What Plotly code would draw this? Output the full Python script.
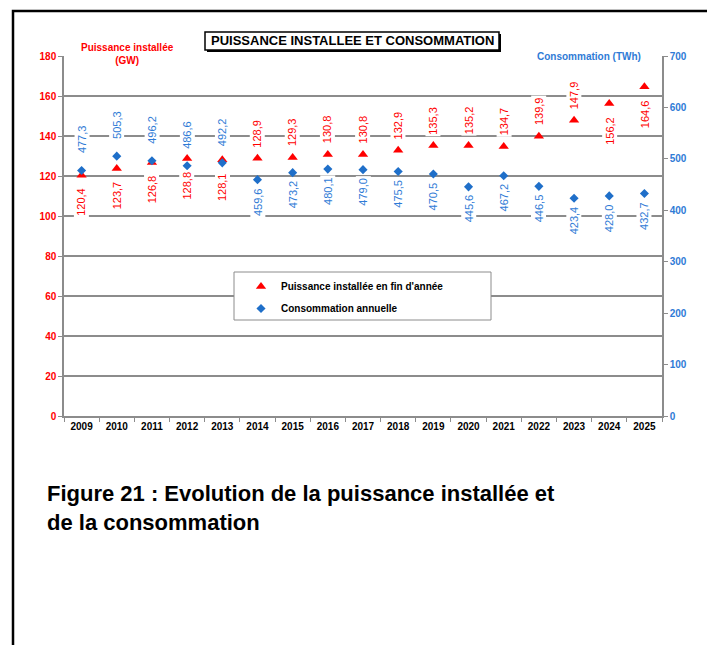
import plotly.graph_objects as go

# Données
annees = [str(a) for a in range(2009, 2026)]
puissance = [120.4, 123.7, 126.8, 128.8, 128.1, 128.9, 129.3, 130.8, 130.8,
             132.9, 135.3, 135.2, 134.7, 139.9, 147.9, 156.2, 164.6]
consommation = [477.3, 505.3, 496.2, 486.6, 492.2, 459.6, 473.2, 480.1, 479.0,
                475.5, 470.5, 445.6, 467.2, 446.5, 423.4, 428.0, 432.7]
# côté de l'étiquette : "h" au-dessus, "b" en dessous
cote_puissance = ["b"] * 5 + ["h"] * 10 + ["b"] * 2
cote_consommation = ["h"] * 5 + ["b"] * 12

ROUGE = "#FF0000"
BLEU = "#1F6FC9"
BLEU_TXT = "#2F7BD6"
GRIS = "#8C8C8C"
POLICE = "Arial, Liberation Sans, sans-serif"

# zone de tracé (pixels de la fenêtre) ; la page ajoute une marge de 8 px
OFF = 8
L, R, T, B = 64, 662, 56, 416
W, H = 706, 637


def px(x):
    return (x - L) / (R - L)


def py(y):
    return (B - y) / (B - T)


fig = go.Figure()

fig.add_trace(go.Scatter(
    x=annees, y=puissance, mode="markers", name="Puissance installée en fin d'année",
    marker=dict(symbol="triangle-up", size=9, color=ROUGE),
    legendgroup="p",
))
fig.add_trace(go.Scatter(
    x=annees, y=consommation, mode="markers", name="Consommation annuelle",
    marker=dict(symbol="diamond", size=7, color=BLEU),
    yaxis="y2", legendgroup="c",
))

annotations = []


def fmt(v):
    return f"{v:.1f}".replace(".", ",")


# étiquettes de données verticales (x = rang de la catégorie)
for i, (v, c) in enumerate(zip(puissance, cote_puissance)):
    annotations.append(dict(
        x=i, y=v, xref="x", yref="y", text=fmt(v), showarrow=False,
        textangle=-90, font=dict(family=POLICE, size=11, color=ROUGE),
        bgcolor="white", borderpad=1, yshift=25 if c == "h" else -27,
    ))
for i, (v, c) in enumerate(zip(consommation, cote_consommation)):
    annotations.append(dict(
        x=i, y=v, xref="x", yref="y2", text=fmt(v), showarrow=False,
        textangle=-90, font=dict(family=POLICE, size=11, color=BLEU_TXT),
        bgcolor="white", borderpad=1, yshift=31 if c == "h" else -22,
    ))

# titres
annotations += [
    dict(x=px(352), y=py(41), xref="paper", yref="paper", showarrow=False,
         xanchor="center", yanchor="middle",
         text="PUISSANCE INSTALLEE ET CONSOMMATION",
         font=dict(family=POLICE, size=13, color="black", weight="bold")),
    dict(x=px(127), y=py(54), xref="paper", yref="paper", showarrow=False,
         xanchor="center", yanchor="middle",
         text="Puissance installée<br>(GW)", bgcolor="white", borderpad=3,
         font=dict(family=POLICE, size=10, color=ROUGE, weight="bold")),
    dict(x=px(589), y=py(56), xref="paper", yref="paper", showarrow=False,
         xanchor="center", yanchor="middle",
         text="Consommation (TWh)", bgcolor="white", borderpad=4,
         font=dict(family=POLICE, size=10, color=BLEU_TXT, weight="bold")),
    dict(x=px(45), y=py(479), xref="paper", yref="paper", showarrow=False,
         xanchor="left", yanchor="top", align="left",
         text="Figure 21 : Evolution de la puissance installée et<br>de la consommation",
         font=dict(family=POLICE, size=22, color="black", weight="bold")),
]

shapes = [
    # cadre extérieur
    dict(type="rect", xref="paper", yref="paper", x0=px(13), x1=px(711),
         y0=py(670), y1=py(11), line=dict(color="black", width=2.5)),
    # boîte du titre avec ombre
    dict(type="rect", xref="paper", yref="paper", x0=px(207), x1=px(501),
         y0=py(52), y1=py(34), fillcolor="black", line=dict(width=0)),
    dict(type="rect", xref="paper", yref="paper", x0=px(205), x1=px(499),
         y0=py(50), y1=py(32), fillcolor="white", line=dict(color="black", width=1.5)),
    # boîte de légende
    dict(type="rect", xref="paper", yref="paper", x0=px(234), x1=px(491),
         y0=py(320), y1=py(272), fillcolor="white", line=dict(color=GRIS, width=1)),
]

fig.update_layout(
    width=W, height=H,
    margin=dict(l=L - OFF, r=W - R + OFF, t=T - OFF, b=H - B + OFF),
    paper_bgcolor="white", plot_bgcolor="white",
    font=dict(family=POLICE),
    showlegend=True,
    legend=dict(x=px(241), y=py(272), xanchor="left", yanchor="top",
                bgcolor="rgba(0,0,0,0)", borderwidth=0, tracegroupgap=3,
                font=dict(family=POLICE, size=10, color="black", weight="bold")),
    annotations=annotations,
    shapes=shapes,
    xaxis=dict(type="category", range=[-0.5, 16.5], showgrid=False,
               showline=True, linecolor=GRIS, linewidth=1.5,
               ticks="outside", tickson="boundaries", ticklen=4, tickcolor=GRIS,
               tickfont=dict(family=POLICE, size=10, color="black", weight="bold")),
    yaxis=dict(range=[0, 180], dtick=20, showgrid=True, gridcolor=GRIS, gridwidth=1.5,
               showline=True, linecolor=GRIS, linewidth=1.5, zeroline=False,
               ticks="outside", ticklen=4, tickcolor=GRIS,
               tickfont=dict(family=POLICE, size=10, color=ROUGE, weight="bold")),
    yaxis2=dict(range=[0, 700], dtick=100, overlaying="y", side="right",
                showgrid=False, showline=True, linecolor=GRIS, linewidth=1.5,
                zeroline=False, ticks="outside", ticklen=4, tickcolor=GRIS,
                tickfont=dict(family=POLICE, size=10, color=BLEU_TXT, weight="bold")),
)

fig.write_html("out.html")
